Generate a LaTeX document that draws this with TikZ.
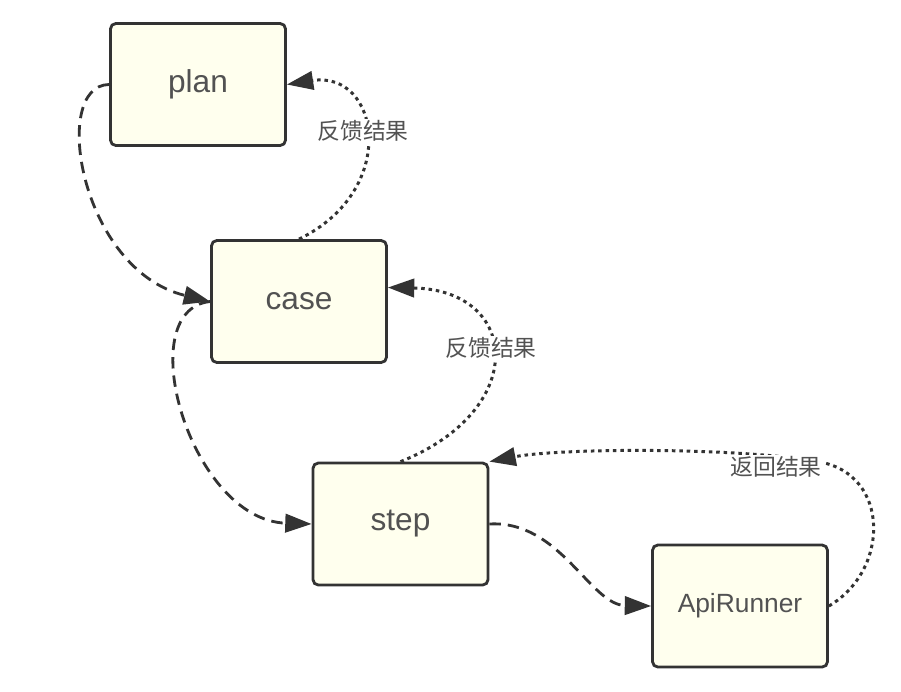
\documentclass[tikz,border=0pt]{standalone}
\usepackage{fontspec}
\setmainfont{Liberation Sans}
\newfontfamily\cjkfont{Noto Sans CJK SC}
\usetikzlibrary{arrows.meta}

\definecolor{boxfill}{RGB}{255,255,238}
\definecolor{boxline}{RGB}{51,51,51}

\tikzset{
  box/.style={draw=boxline, line width=1.6pt, fill=boxfill, rounded corners=3pt,
    minimum width=3.5cm, minimum height=2.44cm, text=boxline!85,
    font=\fontsize{18}{22}\selectfont},
  flow/.style={draw=boxline, line width=1.6pt, dash pattern=on 6.5pt off 4pt,
    -{Triangle[length=15pt,width=10.5pt]}},
  back/.style={draw=boxline, line width=1.7pt, dash pattern=on 2pt off 2.2pt,
    -{Triangle[length=15pt,width=10.5pt]}},
  note/.style={fill=white, inner sep=1pt, text=boxline!85,
    font=\cjkfont\fontsize{13}{15}\selectfont},
}

\begin{document}
\begin{tikzpicture}[x=0.02cm,y=-0.02cm]
            \useasboundingbox (0,0) rectangle (901,691);

            \node[box] (plan) at (198,84.5) {plan};
            \node[box] (case) at (299,301.5) {case};
            \node[box] (step) at (400.5,524) {step};
            \node[box, font=\fontsize{15}{18}\selectfont] (api) at (740,606) {ApiRunner};

            % calls going down
            \draw[flow] (plan.west) .. controls (50,85) and (80,270) .. (case.west);
            \draw[flow] (case.west) .. controls (130,310) and (190,520) .. (step.west);
            \draw[flow] (step.east) .. controls (560,520) and (590,605) .. (api.west);

            % results going back up
            \draw[back] (case.north) .. controls (400,190) and (380,70) .. (plan.east);
            \draw[back] (step.north) .. controls (530,410) and (520,290) .. ([yshift=0.28cm]case.east);
            \draw[back] (api.east) .. controls (890,570) and (890,475) .. (820,462)
                .. controls (740,447) and (560,448) .. (step.north east);

            \node[note] (fb1) at (363,131) {反馈结果};
            \node[note] (fb2) at (491,348) {反馈结果};
            \node[note] (ret) at (776,467) {返回结果};
        \end{tikzpicture}
\end{document}
